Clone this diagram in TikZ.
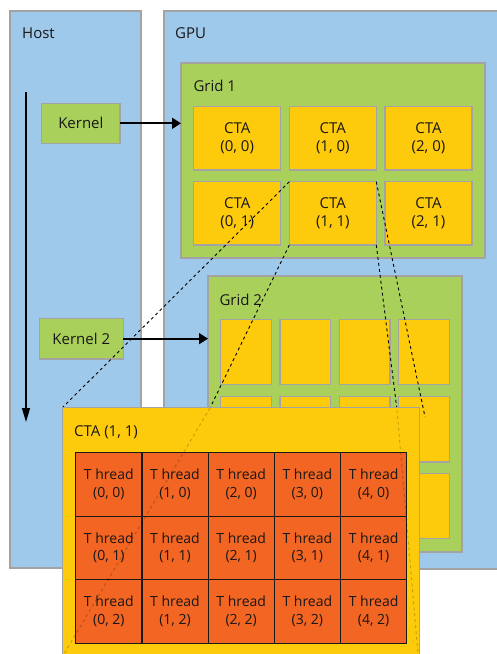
\documentclass[tikz,border=0pt]{standalone}
\usepackage{fontspec}
\setmainfont{Open Sans}
\usetikzlibrary{arrows.meta}
\definecolor{gpublue}{HTML}{9FC9EA}
\definecolor{gridgreen}{HTML}{A9D05B}
\definecolor{ctayellow}{HTML}{FDCB0B}
\definecolor{thorange}{HTML}{F26522}
\definecolor{bordergray}{HTML}{A3A3A3}
\definecolor{txt}{HTML}{1A1718}
\begin{document}
\begin{tikzpicture}[x=1pt,y=-1pt,
  panel/.style={draw=bordergray, line width=1.1pt, inner sep=0pt, outer sep=0pt, anchor=north west},
  ctabox/.style={panel, fill=ctayellow, minimum width=87pt, minimum height=63.3pt, align=center, text=txt, font=\fontsize{15}{18.5}\selectfont},
  smallcta/.style={panel, fill=ctayellow, minimum width=50.6pt, minimum height=65.5pt},
  thcell/.style={draw=black!90, line width=1.2pt, fill=thorange, inner sep=0pt, outer sep=0pt, anchor=north west, minimum width=66.2pt, minimum height=63.5pt, align=center, text=txt, font=\fontsize{14}{17.5}\selectfont},
  lbl/.style={anchor=base west, text=txt, font=\fontsize{15}{18}\selectfont, inner sep=0pt},
  kname/.style={text=txt, font=\fontsize{15}{18}\selectfont, inner sep=0pt},
  callarrow/.style={line width=1.7pt, -{Triangle[length=9pt,width=11pt]}},
  zoomline/.style={dash pattern=on 3pt off 3pt, line width=0.9pt, black},
  fadedline/.style={dash pattern=on 3pt off 3pt, line width=0.9pt, black, opacity=0.22}
]
\useasboundingbox (0,0) rectangle (496,654);
% Host and GPU panels
\node[panel, fill=gpublue, minimum width=131pt, minimum height=557pt] (host) at (10,11) {};
\node[panel, fill=gpublue, minimum width=340pt, minimum height=558pt] (gpu) at (164,11) {};
\node[lbl] (hostlbl) at (22,38) {Host};
\node[lbl] (gpulbl) at (175,38) {GPU};
% Grid 1
\node[panel, fill=gridgreen, minimum width=304pt, minimum height=195pt] (grid1) at (181,63) {};
\node[lbl] (grid1lbl) at (193.3,91.7) {Grid 1};
\node[ctabox] (c00) at (193.7,106.7) {CTA\\(0, 0)};
\node[ctabox] (c10) at (289.3,106.7) {CTA\\(1, 0)};
\node[ctabox] (c20) at (385,106.7) {CTA\\(2, 0)};
\node[ctabox] (c01) at (193.7,181.7) {CTA\\(0, 1)};
\node[ctabox] (c11) at (289.3,181.7) {CTA\\(1, 1)};
\node[ctabox] (c21) at (385,181.7) {CTA\\(2, 1)};
% Kernels
\node[panel, fill=gridgreen, minimum width=78.3pt, minimum height=40pt] (k1) at (41.7,103.3) {};
\node[kname] (k1t) at (k1.center) {Kernel};
\node[panel, fill=gridgreen, minimum width=84pt, minimum height=40.7pt] (k2) at (39.3,318.3) {};
\node[kname] (k2t) at (k2.center) {Kernel 2};
% Grid 2
\node[panel, fill=gridgreen, minimum width=254pt, minimum height=276pt] (grid2) at (208,276) {};
\node[lbl] (grid2lbl) at (219.3,305) {Grid 2};
\foreach \i/\x in {0/220.7,1/280,2/339.4,3/398.8}{
  \foreach \j/\y in {0/319.3,1/396.5,2/473.2}{
    \node[smallcta] (s\i\j) at (\x,\y) {};
  }
}
% Arrows
\draw[callarrow] (k1.east) -- (k1.east -| grid1.west);
\draw[callarrow] (k2.east) -- (k2.east -| grid2.west);
\coordinate (tltop) at (26,92);
\coordinate (tlbot) at (26,422);
\draw[line width=1.3pt, -{Triangle[length=14pt,width=8pt]}] (tltop) -- (tlbot);
% Zoom lines (outside the enlarged CTA)
\coordinate (bnw) at (62.7,407.3);
\coordinate (l2a) at (210,408);
\coordinate (l2b) at (64,654);
\coordinate (l3a) at (397,410);
\coordinate (l3b) at (418,654);
\coordinate (l4b) at (425,417);
\draw[zoomline] (c11.north west) -- (bnw);
\draw[zoomline] (c11.south west) -- (l2a);
\draw[zoomline] (c11.south east) -- (l3a);
\draw[zoomline] (c11.north east) -- (l4b);
% Enlarged CTA (1,1)
\node[panel, fill=ctayellow, minimum width=356.6pt, minimum height=270pt] (big) at (62.7,407.3) {};
\node[lbl] (biglbl) at (74,436) {CTA (1, 1)};
\foreach \i/\x in {0/75.7,1/141.9,2/208.1,3/274.3,4/340.5}{
  \foreach \j/\y in {0/452.7,1/516.2,2/579.7}{
    \node[thcell] (t\i\j) at (\x,\y) {T hread\\(\i, \j)};
  }
}
\draw[fadedline] (l2a) -- (l2b);
\draw[fadedline] (l3a) -- (l3b);
\end{tikzpicture}
\end{document}
